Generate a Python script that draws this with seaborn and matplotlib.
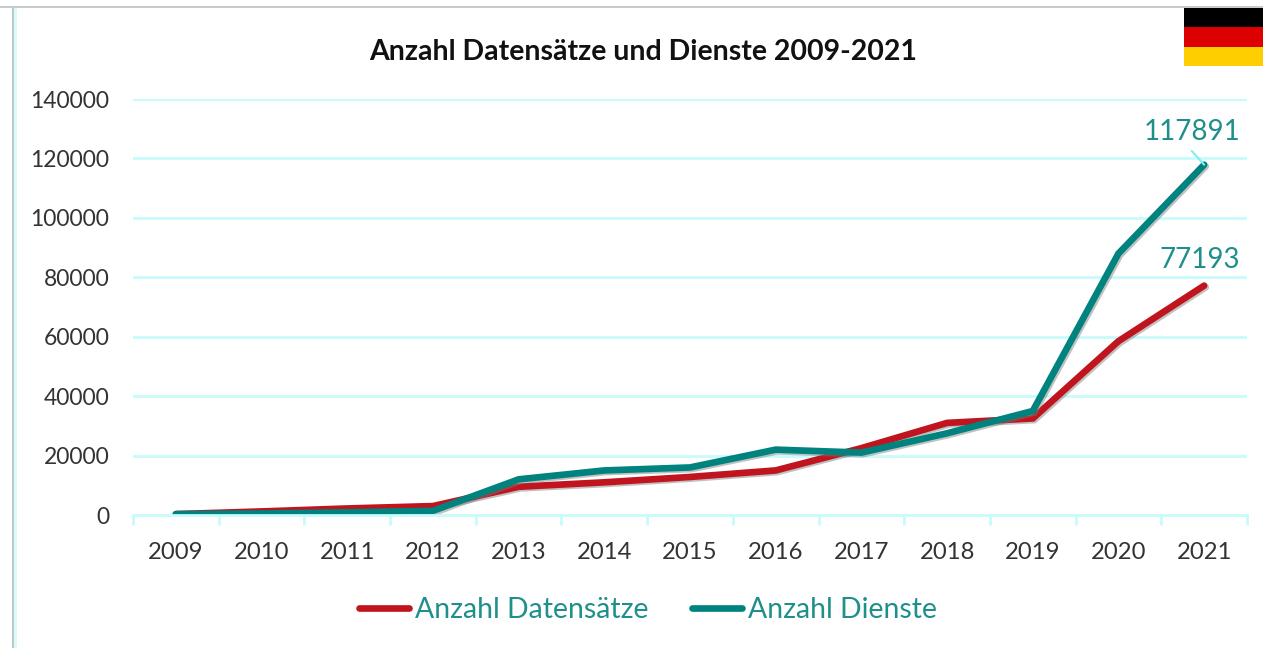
import pandas as pd
import matplotlib
matplotlib.use("Agg")
import matplotlib.pyplot as plt
import matplotlib.patheffects as pe
from matplotlib.patches import Rectangle
import seaborn as sns

# values
years = ["2009", "2010", "2011", "2012", "2013", "2014", "2015",
         "2016", "2017", "2018", "2019", "2020", "2021"]
datensaetze = [300, 1200, 2200, 3000, 9500, 11000, 12800,
               15000, 22500, 31000, 32500, 58500, 77193]
dienste = [300, 500, 900, 1400, 12000, 15000, 16000,
           22000, 21000, 27500, 35000, 88000, 117891]
y_ticks = [0, 20000, 40000, 60000, 80000, 100000, 120000, 140000]
flag_colors = ["#000000", "#DD0000", "#FFCE00"]

RED = "#C0141E"
TEAL = "#00827F"
LABEL_TEAL = "#1F8F8C"
GRID = "#C8FBFB"
TEXT = "#333333"

sns.set_theme(style="white")
plt.rcParams["font.family"] = ["Lato", "DejaVu Sans"]

W, H = 1263, 648
fig = plt.figure(figsize=(W / 100, H / 100), dpi=100)
ax = fig.add_axes([133 / W, 1 - 515 / H, (1247 - 133) / W, (515 - 99) / H])

df = pd.DataFrame({
    "Jahr": years * 2,
    "Anzahl": datensaetze + dienste,
    "Reihe": ["Anzahl Datensätze"] * len(years) + ["Anzahl Dienste"] * len(years),
})

sns.lineplot(
    data=df, x="Jahr", y="Anzahl", hue="Reihe",
    palette={"Anzahl Datensätze": RED, "Anzahl Dienste": TEAL},
    linewidth=4.8, ax=ax, legend=False, sort=False,
)
for line in ax.get_lines():
    line.set_solid_capstyle("round")
    line.set_solid_joinstyle("miter")
    line.set_path_effects([
        pe.SimpleLineShadow(offset=(1.2, -1.2), shadow_color="#777777", alpha=0.45),
        pe.Normal(),
    ])

ax.set_xlim(-0.5, 12.5)
ax.set_ylim(0, 140000)
ax.set_yticks(y_ticks)
ax.set_yticklabels([str(v) for v in y_ticks])
ax.set_xlabel("")
ax.set_ylabel("")
ax.grid(axis="y", color=GRID, linewidth=2)
ax.set_axisbelow(True)
for side in ["top", "left", "right"]:
    ax.spines[side].set_visible(False)
ax.spines["bottom"].set_color(GRID)
ax.spines["bottom"].set_linewidth(2)

# category boundary ticks on the x axis
ax.set_xticks([i - 0.5 for i in range(len(years) + 1)], minor=True)
ax.tick_params(axis="x", which="minor", length=7, width=2, color=GRID, bottom=True, direction="out")
ax.tick_params(axis="x", which="major", length=0, labelsize=17.2, labelcolor=TEXT, pad=19.5)
ax.tick_params(axis="y", length=0, labelsize=16.5, labelcolor=TEXT, pad=17)

ax.set_title("Anzahl Datensätze und Dienste 2009-2021", fontsize=20.5, fontweight="bold",
             color="#111111", x=(643 - 133) / (1247 - 133), y=1, pad=28)

# data labels for the last year
ax.annotate(str(dienste[-1]), xy=(12, dienste[-1]), xytext=(26, 14), textcoords="offset points",
            ha="right", va="bottom", fontsize=20, color=LABEL_TEAL)
ax.annotate(str(datensaetze[-1]), xy=(12, datensaetze[-1]), xytext=(26, 9), textcoords="offset points",
            ha="right", va="bottom", fontsize=20, color=LABEL_TEAL)
# short leader line above the last point
ax.annotate("", xy=(12, dienste[-1]), xytext=(-9, 10), textcoords="offset points",
            arrowprops=dict(arrowstyle="-", color="#7FEFEF", lw=1.5, shrinkA=0, shrinkB=0))

# legend
handles = [plt.Line2D([], [], color=RED, lw=4.8, solid_capstyle="round"),
           plt.Line2D([], [], color=TEAL, lw=4.8, solid_capstyle="round")]
fig.legend(handles, ["Anzahl Datensätze", "Anzahl Dienste"], loc="center",
           bbox_to_anchor=(648 / W, 1 - 610 / H), ncol=2, frameon=False, fontsize=20.4,
           labelcolor=LABEL_TEAL, handlelength=1.75, handletextpad=0.2, columnspacing=1.56)

# picture frame
fig.add_artist(Rectangle((0, 1 - 8 / H), 1, 2 / H, transform=fig.transFigure,
                         facecolor="#C4CCCC", edgecolor="none"))
fig.add_artist(Rectangle((12 / W, 0), 2 / W, 1 - 8 / H, transform=fig.transFigure,
                         facecolor="#BFC8C8", edgecolor="none"))
fig.add_artist(Rectangle((14 / W, 0), 3 / W, 1 - 8 / H, transform=fig.transFigure,
                         facecolor="#D8FBFB", edgecolor="none"))

# flag in the top right corner
for i, c in enumerate(flag_colors):
    fig.add_artist(Rectangle((1184 / W, 1 - (8 + 19.4 * (i + 1)) / H), 79 / W, 19.4 / H,
                             transform=fig.transFigure, facecolor=c, edgecolor="none"))

fig.savefig("out.png", dpi=100, facecolor="white")
